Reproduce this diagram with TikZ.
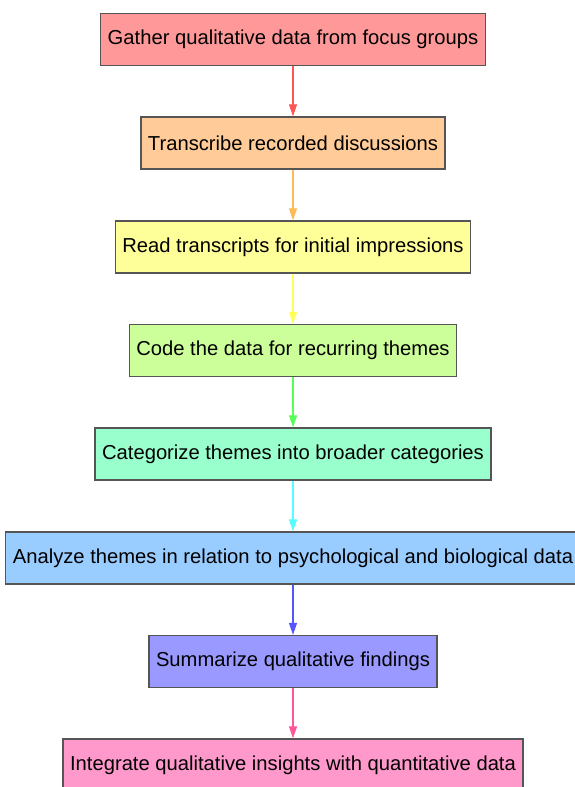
\documentclass[tikz,border=0pt]{standalone}
\usepackage{fontspec}
\setmainfont{Liberation Sans}
\usetikzlibrary{arrows.meta,positioning}

\begin{document}
\begin{tikzpicture}[
    x=1pt, y=-1pt,
    font=\fontsize{20.2}{23}\selectfont,
    >=latex,
]

\definecolor{gatherCol}{HTML}{FF9999}
\definecolor{transcribeCol}{HTML}{FFCC99}
\definecolor{readCol}{HTML}{FFFF99}
\definecolor{codeCol}{HTML}{CCFF99}
\definecolor{categorizeCol}{HTML}{99FFCC}
\definecolor{analyzeCol}{HTML}{99CCFF}
\definecolor{summarizeCol}{HTML}{9999FF}
\definecolor{integrateCol}{HTML}{FF99CC}
\definecolor{borderCol}{HTML}{555555}

\tikzset{
    step_node/.style = {rectangle, minimum height=52pt, inner xsep=7pt,
                        text centered, draw=borderCol, line width=1.3pt},
    arrow/.style = {line width=1.1pt, -{Triangle[length=12pt, width=8pt]}}
}

\useasboundingbox (0,0) rectangle (574,787);

% =========== STEPS ===========
\node[step_node, fill=gatherCol] (gather) at (293, 39.5) {Gather qualitative data from focus groups};
\node[step_node, fill=transcribeCol] (transcribe) at (293, 143) {Transcribe recorded discussions};
\node[step_node, fill=readCol] (read) at (293, 247) {Read transcripts for initial impressions};
\node[step_node, fill=codeCol] (code) at (293, 350.5) {Code the data for recurring themes};
\node[step_node, fill=categorizeCol] (categorize) at (293, 454) {Categorize themes into broader categories};
\node[step_node, fill=analyzeCol] (analyze) at (293, 558) {Analyze themes in relation to psychological and biological data};
\node[step_node, fill=summarizeCol] (summarize) at (293, 661.5) {Summarize qualitative findings};
\node[step_node, fill=integrateCol] (integrate) at (293, 765) {Integrate qualitative insights with quantitative data};

% =========== ARROWS ===========
\draw[arrow, color={rgb,255:red,255;green,85;blue,85}] (gather) -- (transcribe);
\draw[arrow, color={rgb,255:red,255;green,187;blue,85}] (transcribe) -- (read);
\draw[arrow, color={rgb,255:red,255;green,255;blue,85}] (read) -- (code);
\draw[arrow, color={rgb,255:red,85;green,255;blue,85}] (code) -- (categorize);
\draw[arrow, color={rgb,255:red,85;green,255;blue,255}] (categorize) -- (analyze);
\draw[arrow, color={rgb,255:red,85;green,85;blue,255}] (analyze) -- (summarize);
\draw[arrow, color={rgb,255:red,255;green,85;blue,153}] (summarize) -- (integrate);

\end{tikzpicture}
\end{document}
